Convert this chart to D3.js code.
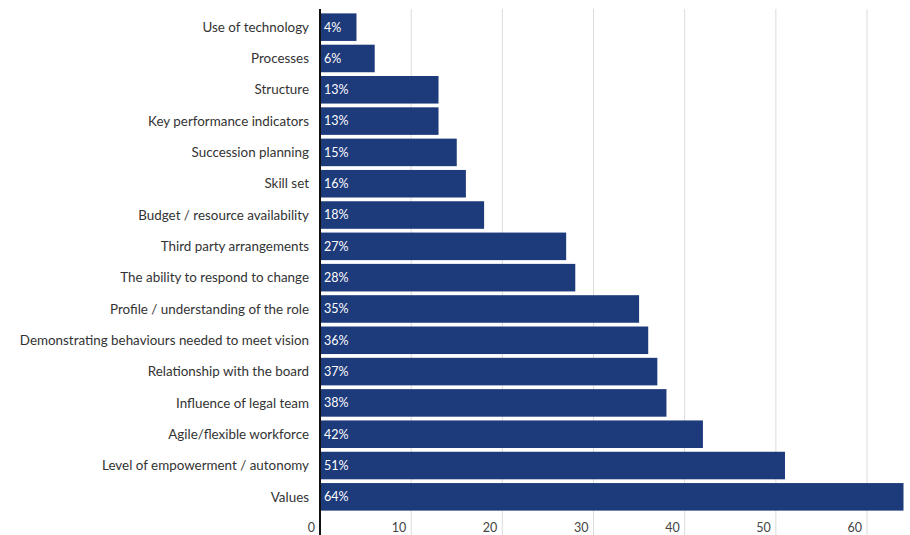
<!DOCTYPE html>
<html><head><meta charset="utf-8">
<script src="https://cdn.jsdelivr.net/npm/d3@7"></script>
<style>body{margin:0;background:#fff;}svg{display:block;font-family:Lato,"Open Sans",sans-serif;}</style>
</head><body><svg id="c" width="910" height="535"></svg>
<script>
const categories = ["Use of technology","Processes","Structure","Key performance indicators","Succession planning","Skill set","Budget / resource availability","Third party arrangements","The ability to respond to change","Profile / understanding of the role","Demonstrating behaviours needed to meet vision","Relationship with the board","Influence of legal team","Agile/flexible workforce","Level of empowerment / autonomy","Values"];
const values = [4,6,13,13,15,16,18,27,28,35,36,37,38,42,51,64];
const tickValues = [0,10,20,30,40,50,60];

const svg = d3.select("#c");
const x = d3.scaleLinear().domain([0,64]).range([320,903.5]);
const y = d3.scaleBand().domain(categories).range([11.5,512.5]).paddingInner(0.12).paddingOuter(0.06);

svg.append("g").selectAll("line").data(tickValues.slice(1)).join("line")
  .attr("x1",d=>x(d)).attr("x2",d=>x(d)).attr("y1",9).attr("y2",535)
  .attr("stroke","#dcdcdc").attr("stroke-width",1);

svg.append("g").selectAll("rect").data(values).join("rect")
  .attr("x",x(0)).attr("y",(d,i)=>y(categories[i]))
  .attr("width",d=>x(d)-x(0)).attr("height",y.bandwidth())
  .attr("fill","#1d3a7b");

svg.append("g").selectAll("text").data(values).join("text")
  .attr("x",x(0)+4).attr("y",(d,i)=>y(categories[i])+y.bandwidth()/2)
  .attr("dy","0.35em").attr("fill","#fff").attr("font-size",12.5)
  .text(d=>d+"%");

svg.append("g").selectAll("text").data(categories).join("text")
  .attr("x",309).attr("y",d=>y(d)+y.bandwidth()/2).attr("dy","0.35em")
  .attr("text-anchor","end").attr("fill","#333").attr("font-size",13.4)
  .text(d=>d);

svg.append("line").attr("x1",x(0)).attr("x2",x(0)).attr("y1",9).attr("y2",535)
  .attr("stroke","#111").attr("stroke-width",2);

svg.append("g").selectAll("text").data(tickValues).join("text")
  .attr("x",d=>x(d)-5).attr("y",528).attr("dy","0.35em")
  .attr("text-anchor","end").attr("fill","#444").attr("font-size",12.5)
  .text(d=>d);
</script></body></html>
